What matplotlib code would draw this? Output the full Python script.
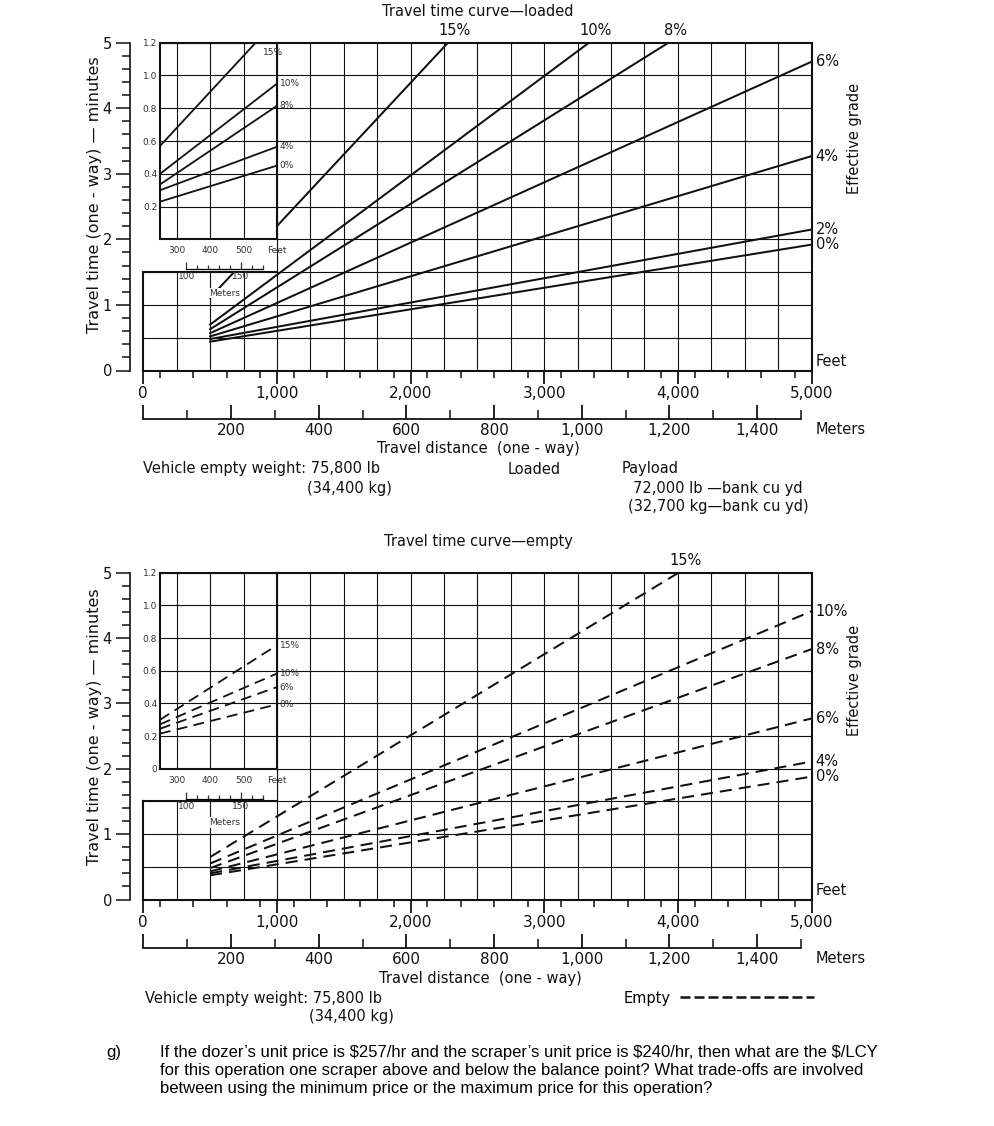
import numpy as np
import matplotlib
matplotlib.use("Agg")
import matplotlib.pyplot as plt
from matplotlib.ticker import FixedLocator, MultipleLocator
from matplotlib.patches import Rectangle
from matplotlib.lines import Line2D

plt.rcParams['font.family'] = ['DejaVu Sans']

# ------------------------------------------------------------------ data
START_FT = 500  # main curves begin at 500 ft

LOADED_GRADES = ['15%', '10%', '8%', '6%', '4%', '2%', '0%']
LOADED_START_MIN = [1.11, 0.70, 0.63, 0.57, 0.52, 0.48, 0.44]
LOADED_END_FT = [2280, 3335, 3930, 5000, 5000, 5000, 5000]
LOADED_END_MIN = [5.0, 5.0, 5.0, 4.71, 3.27, 2.15, 1.92]

EMPTY_GRADES = ['15%', '10%', '8%', '6%', '4%', '0%']
EMPTY_START_MIN = [0.65, 0.55, 0.48, 0.43, 0.40, 0.37]
EMPTY_END_FT = [4005, 5000, 5000, 5000, 5000, 5000]
EMPTY_END_MIN = [5.0, 4.41, 3.83, 2.77, 2.11, 1.88]

INSET_DIST_FT = [250, 600]
LOADED_INSET_GRADES = ['15%', '10%', '8%', '4%', '0%']
LOADED_INSET_MIN_250 = [0.57, 0.40, 0.335, 0.30, 0.23]
LOADED_INSET_MIN_600 = [1.34, 0.95, 0.815, 0.565, 0.45]
EMPTY_INSET_GRADES = ['15%', '10%', '6%', '0%']
EMPTY_INSET_MIN_250 = [0.30, 0.272, 0.245, 0.215]
EMPTY_INSET_MIN_600 = [0.756, 0.583, 0.50, 0.394]

FEET_TICKS = [0, 1000, 2000, 3000, 4000, 5000]
FEET_LABELS = ['0', '1,000', '2,000', '3,000', '4,000', '5,000']
FEET_MINOR = list(np.arange(125, 5000, 250))
METER_TICKS = [0, 200, 400, 600, 800, 1000, 1200, 1400]
METER_LABELS = ['', '200', '400', '600', '800', '1,000', '1,200', '1,400']
METER_MINOR = [100, 300, 500, 700, 900, 1100, 1300, 1500]
MINUTE_TICKS = [0, 1, 2, 3, 4, 5]
MINUTE_LABELS = ['0', '1', '2', '3', '4', '5']

INSET_X_TICKS = [300, 400, 500, 600]
INSET_X_LABELS = ['300', '400', '500', 'Feet']
LOADED_INSET_Y_TICKS = [0.2, 0.4, 0.6, 0.8, 1.0, 1.2]
LOADED_INSET_Y_LABELS = ['0.2', '0.4', '0.6', '0.8', '1.0', '1.2']
EMPTY_INSET_Y_TICKS = [0, 0.2, 0.4, 0.6, 0.8, 1.0, 1.2]
EMPTY_INSET_Y_LABELS = ['0', '0.2', '0.4', '0.6', '0.8', '1.0', '1.2']
INSET_METER_TICKS = [100, 150]
INSET_METER_LABELS = ['100', '150']
INSET_METER_MINOR = [110, 120, 130, 140, 160, 170]

# ------------------------------------------------------------------ layout
W, H = 994, 1126
fig = plt.figure(figsize=(W / 100, H / 100), dpi=100)
fig.patch.set_facecolor('white')


def fx(px):
    return px / W


def fy(py):
    return 1 - py / H


def ft2m(x):
    return np.asarray(x) * 0.3048


def m2ft(x):
    return np.asarray(x) / 0.3048


INK = '#111111'
FRAME_LW = 1.5
GRID_LW = 0.8
CURVE_LW = 1.45
AX_L, AX_R = 143.3, 811.5
FT_MAX, MIN_MAX = 5000, 5
BOX_FT, BOX_MIN = 1000, 1.5
INSET_FT0, INSET_MIN0 = 125, 2.0
GRID_X = np.arange(250, FT_MAX, 250)
GRID_Y = np.arange(0.5, MIN_MAX, 0.5)


def panel(top_px, bot_px, grades, start_min, end_ft, end_min, dashed,
          in_grades, in_a, in_b, in_yt, in_yl):
    hpx = bot_px - top_px
    ax = fig.add_axes([fx(AX_L), fy(bot_px), (AX_R - AX_L) / W, hpx / H])
    ax.set_xlim(0, FT_MAX)
    ax.set_ylim(0, MIN_MAX)
    ls = (0, (6, 3.5)) if dashed else '-'

    for gx in GRID_X:
        ax.axvline(gx, color=INK, lw=GRID_LW, zorder=1)
    for gy in GRID_Y:
        ax.axhline(gy, color=INK, lw=GRID_LW, zorder=1)

    for g, s, ef, em in zip(grades, start_min, end_ft, end_min):
        ax.plot([START_FT, ef], [s, em], color=INK, lw=CURVE_LW, ls=ls, zorder=2)
        if ef < FT_MAX:
            ax.annotate(g, xy=(ef, em), xytext=(5, 9), textcoords='offset points',
                        ha='center', va='center', fontsize=10.5, color=INK,
                        annotation_clip=False)
        else:
            ax.annotate(g, xy=(ef, em), xytext=(3, 0), textcoords='offset points',
                        ha='left', va='center', fontsize=10.5, color=INK,
                        annotation_clip=False)

    # white area left of the inset and above the small box
    ax.add_patch(Rectangle((0, BOX_MIN), BOX_FT, MIN_MAX - BOX_MIN,
                           facecolor='white', edgecolor='none', zorder=3))
    ax.plot([0, BOX_FT], [BOX_MIN, BOX_MIN], color=INK, lw=FRAME_LW, zorder=4,
            clip_on=False, solid_capstyle='projecting')
    ax.plot([BOX_FT, BOX_FT], [BOX_MIN, INSET_MIN0], color=INK, lw=GRID_LW,
            zorder=4, clip_on=False)
    ax.plot([0, 0], [0, BOX_MIN], color=INK, lw=FRAME_LW, zorder=4,
            clip_on=False, solid_capstyle='projecting')

    for sp in ax.spines.values():
        sp.set_linewidth(FRAME_LW)
        sp.set_color(INK)
    ax.spines['top'].set_bounds(BOX_FT, FT_MAX)
    ax.spines['left'].set_position(('outward', 9.5))
    ax.spines['left'].set_bounds(0, MIN_MAX)
    ax.spines['left'].set_linewidth(1.2)

    ax.set_xticks(FEET_TICKS, FEET_LABELS)
    ax.xaxis.set_minor_locator(FixedLocator(FEET_MINOR))
    ax.tick_params(axis='x', which='major', direction='out', length=9.5,
                   width=1.3, pad=2, labelsize=11, colors=INK)
    ax.tick_params(axis='x', which='minor', direction='out', length=5,
                   width=1.1, colors=INK)
    ax.set_yticks(MINUTE_TICKS, MINUTE_LABELS)
    ax.yaxis.set_minor_locator(MultipleLocator(0.2))
    ax.tick_params(axis='y', which='major', direction='out', length=10,
                   width=1.1, pad=3, labelsize=10.5, colors=INK)
    ax.tick_params(axis='y', which='minor', direction='out', length=5.5,
                   width=1.1, colors=INK)

    ruler_loc = -48 / hpx
    sec = ax.secondary_xaxis(ruler_loc, functions=(ft2m, m2ft))
    sec.set_xticks(METER_TICKS, METER_LABELS)
    sec.xaxis.set_minor_locator(FixedLocator(METER_MINOR))
    sec.tick_params(which='major', direction='in', length=10, width=1.3,
                    labelsize=11, pad=3, colors=INK)
    sec.tick_params(which='minor', direction='in', length=6.5, width=1.1,
                    colors=INK)
    sec.spines['bottom'].set_bounds(0, METER_MINOR[-1])
    sec.spines['bottom'].set_linewidth(1.3)
    sec.spines['bottom'].set_color(INK)

    ax.annotate('Feet', xy=(1, 0), xycoords='axes fraction', xytext=(3, 1),
                textcoords='offset points', ha='left', va='bottom',
                fontsize=10.5, color=INK)
    ax.annotate('Meters', xy=(1, ruler_loc), xycoords='axes fraction',
                xytext=(3, -8), textcoords='offset points', ha='left',
                va='center', fontsize=10.5, color=INK)

    # inset of short distances
    ins = ax.inset_axes([INSET_FT0, INSET_MIN0, BOX_FT - INSET_FT0,
                         MIN_MAX - INSET_MIN0], transform=ax.transData)
    ins.set_xlim(INSET_DIST_FT[0], INSET_DIST_FT[1])
    ins.set_ylim(0, 1.2)
    ins.set_xticks(INSET_X_TICKS, INSET_X_LABELS)
    ins.set_yticks(in_yt, in_yl)
    ins.grid(True, color=INK, lw=GRID_LW)
    ins.tick_params(length=0, labelsize=6.5, colors='#333333')
    ins.tick_params(axis='x', pad=5)
    ins.tick_params(axis='y', pad=2)
    for sp in ins.spines.values():
        sp.set_linewidth(FRAME_LW)
        sp.set_color(INK)
    for g, a, b in zip(in_grades, in_a, in_b):
        ins.plot(INSET_DIST_FT, [a, b], color=INK, lw=CURVE_LW * 0.9, ls=ls)
        if b > 1.2:
            xt = INSET_DIST_FT[0] + (1.2 - a) / (b - a) * (INSET_DIST_FT[1] - INSET_DIST_FT[0])
            ins.annotate(g, xy=(xt, 1.2), xytext=(5, -7), textcoords='offset points',
                         ha='left', va='center', fontsize=6.5, color='#333333',
                         annotation_clip=False)
        else:
            ins.annotate(g, xy=(INSET_DIST_FT[1], b), xytext=(2, 0),
                         textcoords='offset points', ha='left', va='center',
                         fontsize=6.5, color='#333333', annotation_clip=False)

    isec = ins.secondary_xaxis(-30 / (hpx * 0.6), functions=(ft2m, m2ft))
    isec.set_xticks(INSET_METER_TICKS, INSET_METER_LABELS)
    isec.xaxis.set_minor_locator(FixedLocator(INSET_METER_MINOR))
    isec.tick_params(which='major', direction='in', length=5, width=0.9,
                     labelsize=6.5, pad=2, colors='#333333')
    isec.tick_params(which='minor', direction='in', length=3, width=0.9,
                     colors='#333333')
    isec.spines['bottom'].set_bounds(INSET_METER_TICKS[0], INSET_METER_MINOR[-1])
    isec.spines['bottom'].set_linewidth(0.9)

    ax.text(611, 1.18, 'Meters', fontsize=6.5, color='#333333', ha='center',
            va='center', zorder=6,
            bbox=dict(facecolor='white', edgecolor='none', pad=0.5))
    return ax


ax_top = panel(42.7, 370.5, LOADED_GRADES, LOADED_START_MIN, LOADED_END_FT,
               LOADED_END_MIN, False, LOADED_INSET_GRADES, LOADED_INSET_MIN_250,
               LOADED_INSET_MIN_600, LOADED_INSET_Y_TICKS, LOADED_INSET_Y_LABELS)
ax_bot = panel(572.7, 899.5, EMPTY_GRADES, EMPTY_START_MIN, EMPTY_END_FT,
               EMPTY_END_MIN, True, EMPTY_INSET_GRADES, EMPTY_INSET_MIN_250,
               EMPTY_INSET_MIN_600, EMPTY_INSET_Y_TICKS, EMPTY_INSET_Y_LABELS)

# ------------------------------------------------------------------ texts
FS = 10.5
TEXTS = [
    ("Travel time curve\u2014loaded", 478, 12, 'center'),
    ("Travel distance  (one - way)", 478, 448, 'center'),
    ("Vehicle empty weight: 75,800 lb", 143, 469, 'left'),
    ("(34,400 kg)", 307, 489, 'left'),
    ("Loaded", 534, 469, 'center'),
    ("Payload", 622, 469, 'left'),
    ("72,000 lb \u2014bank cu yd", 633, 488, 'left'),
    ("(32,700 kg\u2014bank cu yd)", 628, 506, 'left'),
    ("Travel time curve\u2014empty", 478, 542, 'center'),
    ("Travel distance  (one - way)", 480, 978, 'center'),
    ("Vehicle empty weight: 75,800 lb", 145, 998, 'left'),
    ("(34,400 kg)", 309, 1017, 'left'),
]
for s, x, y, ha in TEXTS:
    fig.text(fx(x), fy(y), s, ha=ha, va='center', fontsize=FS, color=INK)

for yc in (195, 727):
    fig.text(fx(95), fy(yc), "Travel time (one - way) \u2014 minutes", rotation=90,
             ha='center', va='center', fontsize=11.5, color=INK)
for yc in (138, 680):
    fig.text(fx(855), fy(yc), "Effective grade", rotation=90,
             ha='center', va='center', fontsize=FS, color=INK)

fig.legend(handles=[Line2D([], [], color=INK, lw=1.8, ls=(0, (4, 1.6)))],
           labels=['Empty'], loc='center left',
           bbox_to_anchor=(fx(624), fy(998)), frameon=False, markerfirst=False,
           handlelength=9.2, handletextpad=0.6, borderpad=0, borderaxespad=0,
           prop={'size': FS})

QFONT = ['Liberation Sans', 'DejaVu Sans']
Q_LINES = [
    "If the dozer\u2019s unit price is $257/hr and the scraper\u2019s unit price is $240/hr, then what are the $/LCY",
    "for this operation one scraper above and below the balance point? What trade-offs are involved",
    "between using the minimum price or the maximum price for this operation?",
]
fig.text(fx(106), fy(1053), "g)", ha='left', va='center', fontsize=12,
         family=QFONT, color='black')
for i, line in enumerate(Q_LINES):
    fig.text(fx(160), fy(1053 + 18 * i), line, ha='left', va='center',
             fontsize=12, family=QFONT, color='black')

fig.savefig('out.png', dpi=100, facecolor='white')
